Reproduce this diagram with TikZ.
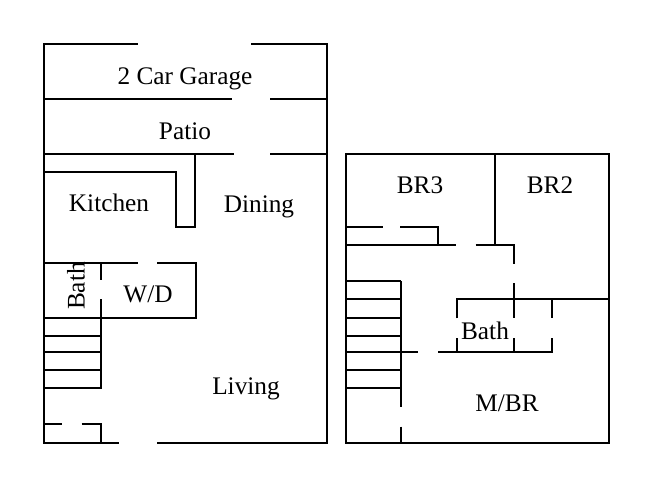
\documentclass[tikz,border=0pt]{standalone}
\usepackage{fontspec}
\setmainfont{Liberation Serif}
\usepackage{tikz}
\usetikzlibrary{positioning}

\begin{document}
\begin{tikzpicture}[x=0.02cm, y=-0.02cm]
	\useasboundingbox (0,0) rectangle (650,488);

	\begin{scope}[every path/.style={draw=black, line width=1.1pt, line cap=butt}]
		% ground floor
		\path (137.7,44.3) -- (44.3,44.3) -- (44.3,442.7) -- (119,442.7);
		\path (157.3,442.7) -- (327.3,442.7) -- (327.3,44.3) -- (251,44.3);
		\path (44.3,99) -- (232,99);
		\path (270,99) -- (327.3,99);
		\path (44.3,153.7) -- (234,153.7);
		\path (270,153.7) -- (327.3,153.7);
		\path (195,153.7) -- (195,226.7) -- (176,226.7) -- (176,171.7) -- (44.3,171.7);
		\path (44.3,263.3) -- (137.7,263.3);
		\path (157.3,263.3) -- (195.7,263.3) -- (195.7,317.7) -- (44.3,317.7);
		\path (101,263.3) -- (101,280);
		\path (101,299.3) -- (101,388.3) -- (44.3,388.3);
		\path (44.3,424.3) -- (62,424.3);
		\path (81.7,424.3) -- (101,424.3) -- (101,442.7);
		\foreach \y in {336,352.3,370.3}
			\path (44.3,\y) -- (101,\y);

		% upper floor
		\path (346.3,154) rectangle (608.7,442.7);
		\path (495,154) -- (495,245);
		\path (346.3,226.7) -- (382.7,226.7);
		\path (400,226.7) -- (438.3,226.7) -- (438.3,245);
		\path (346.3,245) -- (456,245);
		\path (475.7,245) -- (514,245) -- (514,264);
		\path (514,283.3) -- (514,318.3);
		\path (457,318.3) -- (457,299.3) -- (608.7,299.3);
		\path (551.7,299.3) -- (551.7,318.3);
		\path (457,338) -- (457,351.7);
		\path (514,338) -- (514,351.7);
		\path (346.3,351.7) -- (418.3,351.7);
		\path (438.3,351.7) -- (551.7,351.7) -- (551.7,338);
		\path (400.7,281.3) -- (400.7,407.3);
		\path (400.7,426.7) -- (400.7,442.7);
		\foreach \y in {281.3,299.3,317.7,336,370,388.3}
			\path (346.3,\y) -- (400.7,\y);
	\end{scope}

	\begin{scope}[every node/.style={font=\fontsize{14.4pt}{16pt}\selectfont, text=black, inner sep=0pt}]
		\node (garage) at (185,79) {2 Car Garage};
		\node (patio) at (185,131) {Patio};
		\node (kitchen) at (109,203) {Kitchen};
		\node (dining) at (259,207) {Dining};
		\node[rotate=90] (bath1) at (76,286) {Bath};
		\node (wd) at (148,294) {W/D};
		\node (living) at (246,389) {Living};
		\node (br3) at (420,185) {BR3};
		\node (br2) at (550,185) {BR2};
		\node (bath2) at (485,331) {Bath};
		\node (mbr) at (507,403) {M/BR};
	\end{scope}
\end{tikzpicture}
\end{document}
